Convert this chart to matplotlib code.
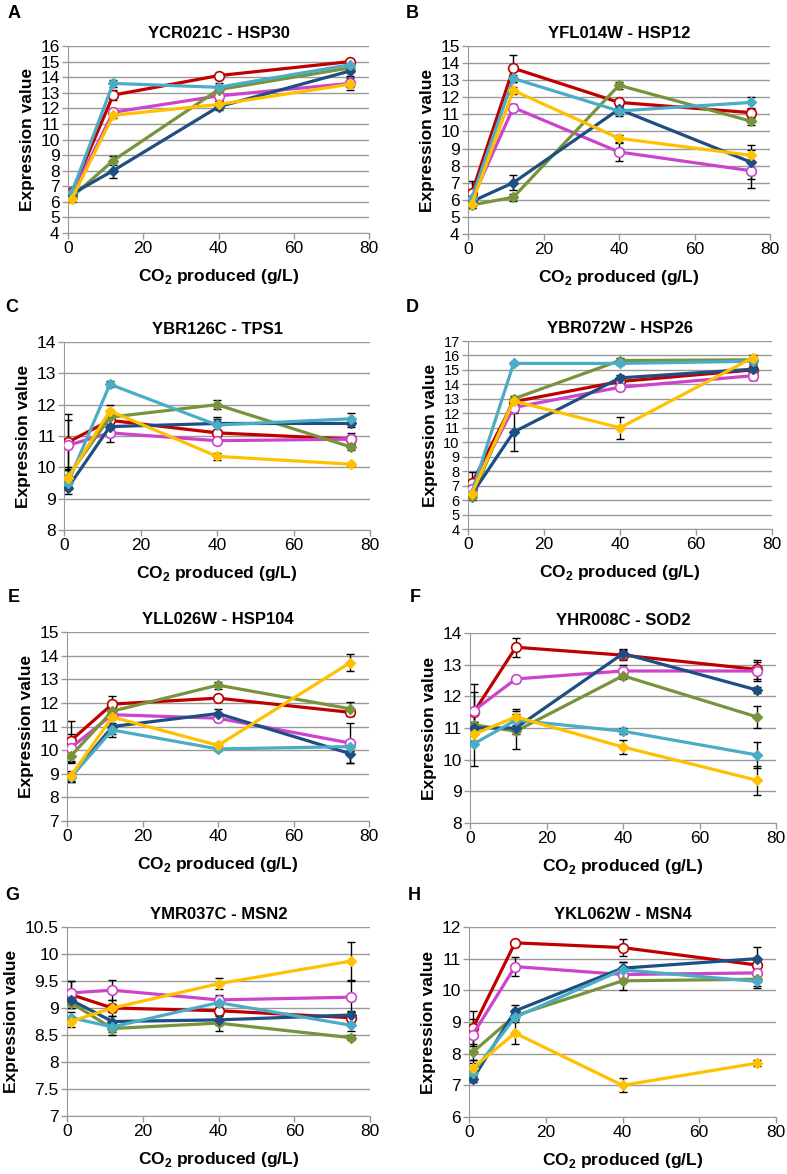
import matplotlib
matplotlib.use('Agg')
import matplotlib.pyplot as plt
import numpy as np

plt.rcParams['font.family'] = ['Liberation Sans', 'DejaVu Sans']
plt.rcParams['mathtext.fontset'] = 'custom'
plt.rcParams['mathtext.rm'] = 'Liberation Sans'
plt.rcParams['mathtext.bf'] = 'Liberation Sans:bold'

# CO2 produced (g/L) sampling points
co2 = [1, 12, 40, 75]

# series order: red, magenta, green, dark blue, light blue, yellow
colors = ['#C00000', '#CC44CC', '#77933C', '#1F4E82', '#4BACC6', '#FFC000']
open_marker = [True, True, False, False, False, False]

letters = ['A', 'B', 'C', 'D', 'E', 'F', 'G', 'H']
titles = ['YCR021C - HSP30', 'YFL014W - HSP12', 'YBR126C - TPS1', 'YBR072W - HSP26',
          'YLL026W - HSP104', 'YHR008C - SOD2', 'YMR037C - MSN2', 'YKL062W - MSN4']
ylims = [(4, 16), (4, 15), (8, 14), (4, 17), (7, 15), (8, 14), (7, 10.5), (6, 12)]
ysteps = [1, 1, 1, 1, 1, 1, 0.5, 1]

hsp30 = [[6.6, 12.85, 14.1, 15.0],
         [6.4, 11.75, 12.8, 13.6],
         [6.3, 8.65, 13.2, 14.6],
         [6.5, 8.0, 12.1, 14.4],
         [6.6, 13.6, 13.35, 14.8],
         [6.2, 11.55, 12.25, 13.55]]
hsp30_err = [[0.3, 0.3, 0.15, 0.15],
             [0.2, 0.2, 0.3, 0.2],
             [0.2, 0.3, 0.3, 0.2],
             [0.2, 0.5, 0.2, 0.3],
             [0.2, 0.2, 0.3, 0.2],
             [0.2, 0.2, 0.2, 0.4]]

hsp12 = [[6.4, 13.7, 11.7, 11.1],
         [6.0, 11.4, 8.8, 7.7],
         [5.7, 6.15, 12.7, 10.6],
         [5.9, 7.0, 11.3, 8.2],
         [6.1, 13.1, 11.2, 11.7],
         [5.75, 12.4, 9.6, 8.6]]
hsp12_err = [[0.7, 0.8, 0.2, 0.2],
             [0.3, 0.2, 0.5, 1.0],
             [0.2, 0.2, 0.2, 0.2],
             [0.2, 0.45, 0.3, 1.0],
             [0.2, 0.2, 0.3, 0.3],
             [0.2, 0.2, 0.2, 0.3]]

tps1 = [[10.8, 11.5, 11.1, 10.9],
        [10.7, 11.1, 10.85, 10.9],
        [9.7, 11.6, 12.0, 10.65],
        [9.35, 11.3, 11.4, 11.4],
        [9.5, 12.65, 11.35, 11.55],
        [9.65, 11.8, 10.35, 10.1]]
tps1_err = [[0.9, 0.2, 0.1, 0.1],
            [0.8, 0.3, 0.1, 0.2],
            [0.3, 0.2, 0.15, 0.1],
            [0.2, 0.1, 0.2, 0.1],
            [0.2, 0.1, 0.2, 0.2],
            [0.3, 0.2, 0.1, 0.05]]

hsp26 = [[7.15, 12.8, 14.2, 15.0],
         [6.8, 12.4, 13.8, 14.6],
         [6.2, 13.0, 15.65, 15.7],
         [6.4, 10.7, 14.45, 15.05],
         [6.5, 15.45, 15.45, 15.6],
         [6.45, 12.85, 11.0, 15.85]]
hsp26_err = [[0.8, 0.2, 0.2, 0.3],
             [0.3, 0.3, 0.2, 0.3],
             [0.2, 0.2, 0.2, 0.2],
             [0.2, 1.3, 0.2, 0.2],
             [0.2, 0.1, 0.1, 0.2],
             [0.2, 0.2, 0.77, 0.2]]

hsp104 = [[10.4, 11.95, 12.2, 11.6],
          [10.1, 11.5, 11.35, 10.3],
          [9.75, 11.65, 12.75, 11.75],
          [8.85, 11.0, 11.55, 9.85],
          [8.85, 10.85, 10.05, 10.15],
          [8.9, 11.4, 10.2, 13.7]]
hsp104_err = [[0.85, 0.35, 0.1, 0.1],
              [0.6, 0.1, 0.1, 0.85],
              [0.3, 0.2, 0.15, 0.3],
              [0.2, 0.3, 0.2, 0.4],
              [0.2, 0.3, 0.1, 0.2],
              [0.2, 0.1, 0.1, 0.35]]

sod2 = [[11.5, 13.55, 13.3, 12.85],
        [11.55, 12.55, 12.8, 12.8],
        [11.1, 10.9, 12.65, 11.35],
        [11.0, 11.0, 13.35, 12.2],
        [10.5, 11.25, 10.9, 10.15],
        [10.8, 11.35, 10.4, 9.35]]
sod2_err = [[0.9, 0.3, 0.15, 0.3],
            [0.6, 0.1, 0.2, 0.3],
            [0.3, 0.55, 0.1, 0.35],
            [0.2, 0.2, 0.15, 0.1],
            [0.7, 0.3, 0.1, 0.4],
            [0.2, 0.25, 0.22, 0.45]]

msn2 = [[9.25, 9.0, 8.95, 8.82],
        [9.28, 9.33, 9.15, 9.2],
        [9.1, 8.62, 8.72, 8.45],
        [9.15, 8.75, 8.78, 8.87],
        [8.82, 8.65, 9.1, 8.68],
        [8.75, 9.0, 9.45, 9.87]]
msn2_err = [[0.25, 0.15, 0.1, 0.1],
            [0.22, 0.18, 0.1, 0.3],
            [0.1, 0.12, 0.15, 0.05],
            [0.1, 0.1, 0.1, 0.08],
            [0.1, 0.1, 0.1, 0.1],
            [0.1, 0.08, 0.1, 0.35]]

msn4 = [[8.8, 11.5, 11.35, 10.8],
        [8.6, 10.75, 10.5, 10.55],
        [8.05, 9.2, 10.3, 10.35],
        [7.2, 9.35, 10.7, 11.0],
        [7.4, 9.15, 10.65, 10.28],
        [7.55, 8.65, 7.0, 7.7]]
msn4_err = [[0.55, 0.1, 0.28, 0.15],
            [0.5, 0.3, 0.1, 0.1],
            [0.25, 0.1, 0.3, 0.2],
            [0.1, 0.2, 0.2, 0.38],
            [0.3, 0.1, 0.25, 0.2],
            [0.25, 0.35, 0.22, 0.1]]

panels = [(hsp30, hsp30_err), (hsp12, hsp12_err), (tps1, tps1_err), (hsp26, hsp26_err),
          (hsp104, hsp104_err), (sod2, sod2_err), (msn2, msn2_err), (msn4, msn4_err)]

# axes boxes in pixels: left, top, right, bottom
boxes = [(68, 46, 369, 233), (468, 46, 770, 234),
         (64, 342, 370, 530), (468, 341, 772, 529),
         (67, 632, 369, 821), (470, 633, 776, 823),
         (67, 927, 370, 1116), (469, 927, 776, 1117)]
letter_pos = [(8, 14), (406, 14), (5, 307), (406, 307),
              (8, 597), (410, 597), (5, 895), (408, 895)]
# panel D has many ticks packed tight
tick_size = [12.5, 12.5, 12.5, 10.5, 12.5, 12.5, 12.5, 12.5]

W, H = 787, 1174
fig = plt.figure(figsize=(W / 100, H / 100), dpi=100)

for i, (data, err) in enumerate(panels):
    l, t, r, b = boxes[i]
    ax = fig.add_axes([l / W, 1 - b / H, (r - l) / W, (b - t) / H])
    for k in range(6):
        ax.errorbar(co2, data[k], yerr=err[k], fmt='none', ecolor='black',
                    elinewidth=1, capsize=3, capthick=1, zorder=2)
    for k in range(6):
        if open_marker[k]:
            ax.plot(co2, data[k], color=colors[k], lw=2.3, marker='o', ms=7,
                    mfc='white', mec=colors[k], mew=1.2, zorder=3)
        else:
            ax.plot(co2, data[k], color=colors[k], lw=2.3, marker='D', ms=5.5,
                    mfc=colors[k], mec=colors[k], zorder=3)
    lo, hi = ylims[i]
    ax.set_ylim(lo, hi)
    ax.set_yticks(np.arange(lo, hi + 1e-9, ysteps[i]))
    ax.yaxis.set_major_formatter(matplotlib.ticker.FormatStrFormatter('%g'))
    ax.set_xlim(0, 80)
    ax.set_xticks([0, 20, 40, 60, 80])
    ax.grid(axis='y', color='#999999', lw=1)
    ax.set_axisbelow(True)
    for s in ['top', 'right']:
        ax.spines[s].set_visible(False)
    for s in ['left', 'bottom']:
        ax.spines[s].set_color('#999999')
    ax.tick_params(axis='both', colors='#999999', labelcolor='black', labelsize=12.5,
                   length=4, width=1, pad=2)
    ax.tick_params(axis='y', labelsize=tick_size[i])
    ax.set_title(titles[i], fontsize=12, fontweight='bold', pad=6)
    ax.set_ylabel('Expression value', fontsize=12.5, fontweight='bold', labelpad=4)
    ax.set_xlabel(r'CO$_\mathbf{2}$ produced (g/L)', fontsize=12.5, fontweight='bold', labelpad=8)
    lx, ly = letter_pos[i]
    fig.text(lx / W, 1 - ly / H, letters[i], fontsize=13, fontweight='bold', va='center', ha='left')

fig.savefig('out.png', dpi=100)
